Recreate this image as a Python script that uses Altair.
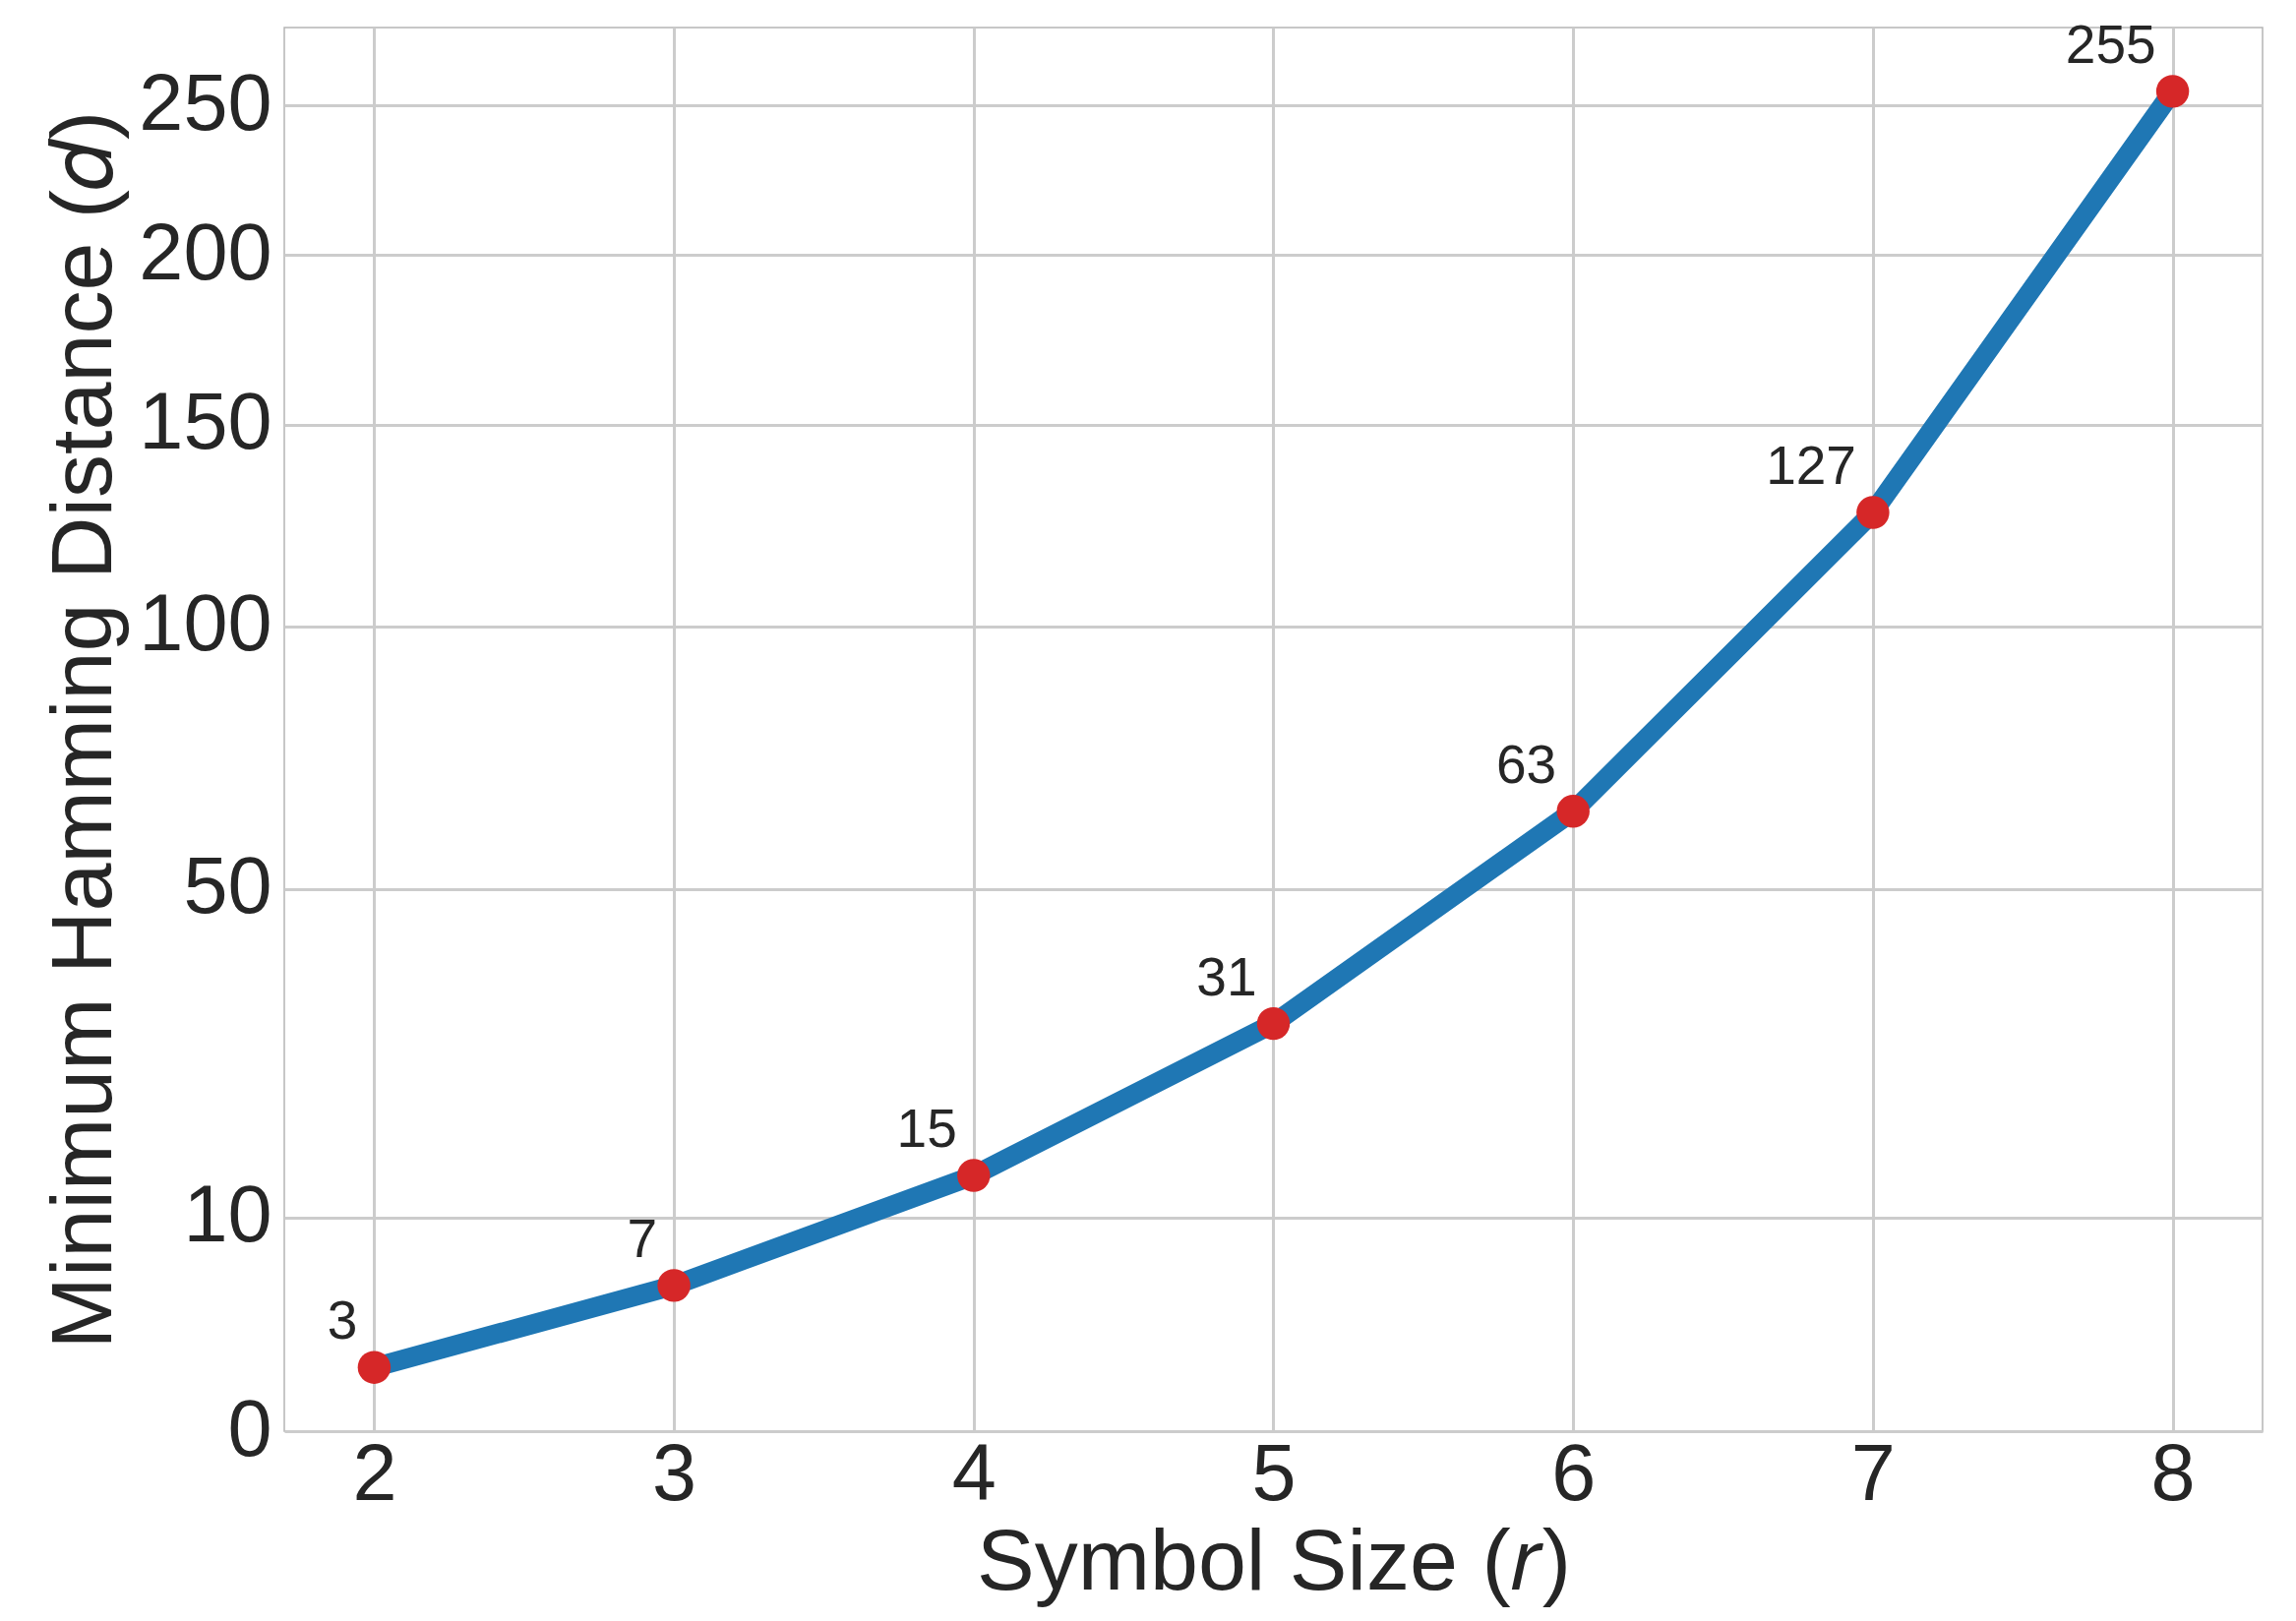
import altair as alt
import pandas as pd

# data
symbol_size = [2, 3, 4, 5, 6, 7, 8]
min_distance = [3, 7, 15, 31, 63, 127, 255]
point_labels = ["3", "7", "15", "31", "63", "127", "255"]

x_ticks = [2, 3, 4, 5, 6, 7, 8]
y_tick_values = [1.041, 11.6, 50, 100, 150, 200, 250]
y_tick_labels = ["0", "10", "50", "100", "150", "200", "250"]

x_domain = [1.7, 8.3]
y_domain = [1.041, 278.24]

df = pd.DataFrame({"r": symbol_size, "d": min_distance, "label": point_labels})

FONT = "Liberation Sans"
TXT = "#262626"

label_expr = "{}[indexof({}, datum.value)]".format(
    "[" + ",".join('"%s"' % s for s in y_tick_labels) + "]",
    "[" + ",".join(str(v) for v in y_tick_values) + "]",
)

x_enc = alt.X(
    "r:Q",
    scale=alt.Scale(domain=x_domain, nice=False, zero=False),
    axis=alt.Axis(values=x_ticks, format="d", title="Symbol Size (𝑟)",
                  labelPadding=5, titleBaseline="alphabetic", titleY=160),
)
y_enc = alt.Y(
    "d:Q",
    scale=alt.Scale(type="sqrt", domain=y_domain, nice=False, zero=False),
    axis=alt.Axis(values=y_tick_values, labelExpr=label_expr,
                  title="Minimum Hamming Distance (𝑑)", labelPadding=13,
                  titleBaseline="alphabetic", titleX=-177, titleAngle=-90),
)

base = alt.Chart(df).encode(x=x_enc, y=y_enc)

line = base.mark_line(color="#1f77b4", strokeWidth=20)
points = base.mark_circle(color="#d62728", opacity=1, size=1120)
labels = base.mark_text(
    align="right", baseline="alphabetic", dx=-17, dy=-29,
    font=FONT, fontSize=55, color=TXT,
).encode(text="label:N")

chart = (
    alt.layer(line, points, labels)
    .properties(
        width=2011, height=1427,
        padding={"left": 281, "top": 20, "right": 26, "bottom": 185},
        autosize=alt.AutoSizeParams(type="none"),
    )
    .configure_view(stroke="#b5b5b5", strokeWidth=1.5)
    .configure_axis(
        grid=True, gridColor="#cccccc", gridWidth=3,
        ticks=False, domain=False,
        labelFont=FONT, labelFontSize=81, labelColor=TXT,
        titleFont=FONT, titleFontSize=88, titleFontWeight="normal", titleColor=TXT,
    )
)

chart.save("out.html", embed_options={"renderer": "svg", "actions": False})
